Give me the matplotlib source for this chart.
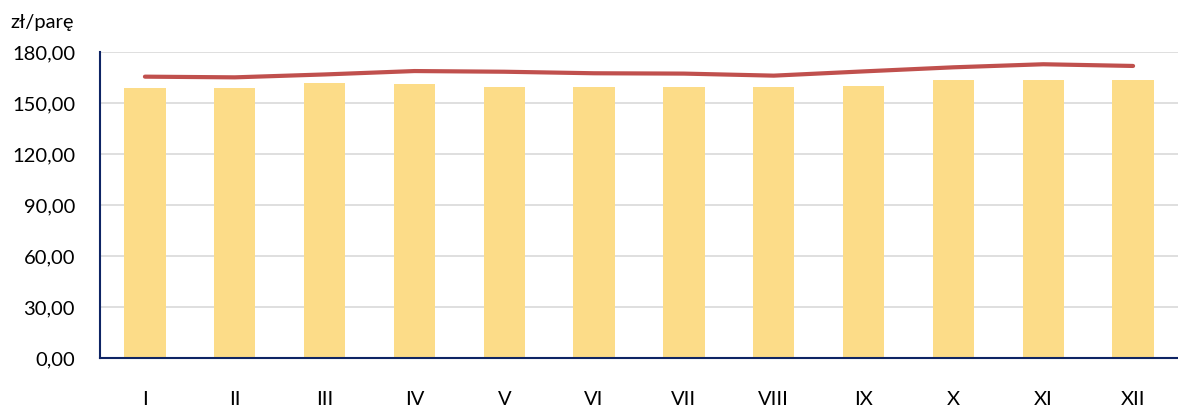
import matplotlib.pyplot as plt
import numpy as np

months = ['I', 'II', 'III', 'IV', 'V', 'VI', 'VII', 'VIII', 'IX', 'X', 'XI', 'XII']
bar_vals = [158.8, 158.8, 161.8, 161.2, 159.4, 159.4, 159.4, 159.4, 160.0, 163.5, 163.5, 163.5]
line_vals = [165.5, 165.1, 166.8, 168.8, 168.4, 167.5, 167.3, 166.1, 168.6, 171.0, 172.8, 171.8]
yticks = [0, 30, 60, 90, 120, 150, 180]

plt.rcParams['font.family'] = ['Lato', 'DejaVu Sans']

fig = plt.figure(figsize=(11.78, 4.07), dpi=100)
ax = fig.add_axes([0.0849, 0.1204, 0.9151, 0.7518])

x = np.arange(len(months))
ax.bar(x, bar_vals, width=0.46, color='#FCDC88', zorder=2)
ax.plot(x, line_vals, color='#C0504D', lw=3, solid_capstyle='round', zorder=3)

ax.set_xlim(-0.5, len(months) - 0.5)
ax.set_ylim(0, 180)
ax.set_yticks(yticks)
ax.set_yticklabels(['%d,00' % v for v in yticks])
ax.set_xticks(x)
ax.set_xticklabels(months)
ax.tick_params(axis='both', length=0, labelsize=14.5, colors='black')
ax.tick_params(axis='x', pad=24)
ax.tick_params(axis='y', pad=18)

ax.grid(axis='y', color='#D9D9D9', lw=1.2, zorder=0)
for s in ['top', 'right']:
    ax.spines[s].set_visible(False)
for s in ['left', 'bottom']:
    ax.spines[s].set_color('#0E2464')
    ax.spines[s].set_linewidth(1.5)

fig.text(0.0085, 0.945, 'zł/parę', fontsize=14.5, ha='left', va='center')

fig.savefig('out.png', dpi=100)
